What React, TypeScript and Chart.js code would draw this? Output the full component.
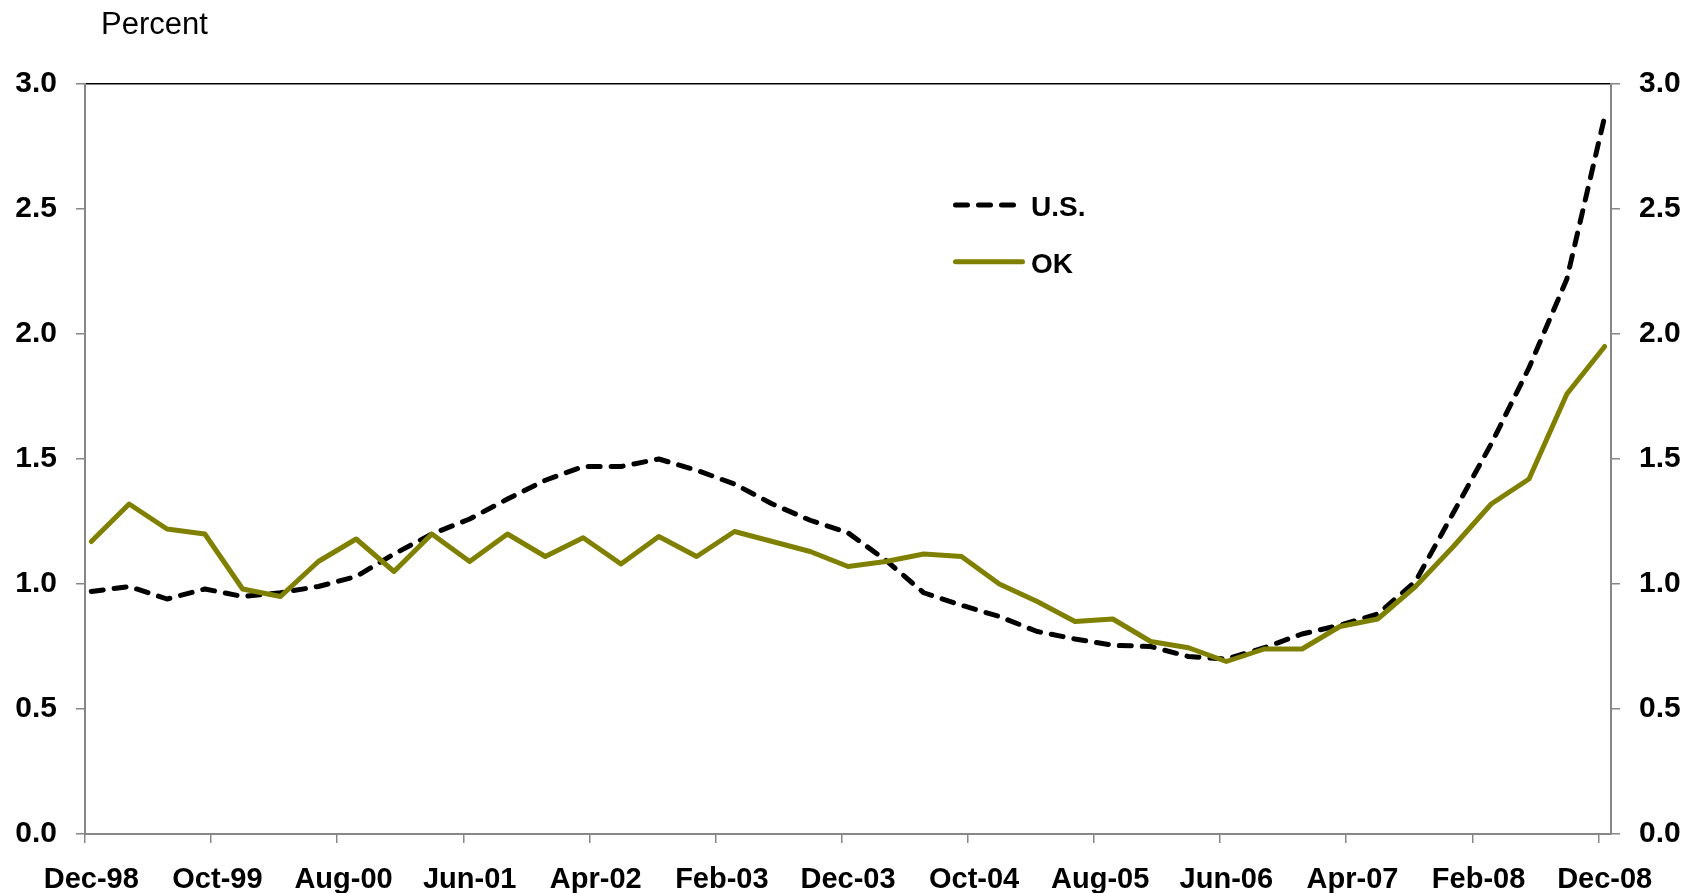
import React, { useEffect, useRef } from "react";
import { Chart, registerables } from "chart.js";

Chart.register(...registerables);

// Quarterly observations (end of quarter)
const quarters = [
  "Dec-98", "Mar-99", "Jun-99", "Sep-99", "Dec-99", "Mar-00", "Jun-00", "Sep-00",
  "Dec-00", "Mar-01", "Jun-01", "Sep-01", "Dec-01", "Mar-02", "Jun-02", "Sep-02",
  "Dec-02", "Mar-03", "Jun-03", "Sep-03", "Dec-03", "Mar-04", "Jun-04", "Sep-04",
  "Dec-04", "Mar-05", "Jun-05", "Sep-05", "Dec-05", "Mar-06", "Jun-06", "Sep-06",
  "Dec-06", "Mar-07", "Jun-07", "Sep-07", "Dec-07", "Mar-08", "Jun-08", "Sep-08",
  "Dec-08",
];

const usValues = [
  0.97, 0.99, 0.94, 0.98, 0.95, 0.965, 0.99, 1.03, 1.12, 1.2, 1.26, 1.34, 1.415,
  1.47, 1.47, 1.5, 1.455, 1.4, 1.32, 1.255, 1.205, 1.095, 0.965, 0.915, 0.87,
  0.81, 0.78, 0.755, 0.75, 0.71, 0.7, 0.745, 0.8, 0.835, 0.88, 1.01, 1.285, 1.56,
  1.865, 2.22, 2.87,
];

const okValues = [
  1.17, 1.32, 1.22, 1.2, 0.98, 0.95, 1.09, 1.18, 1.05, 1.2, 1.09, 1.2, 1.11,
  1.185, 1.08, 1.19, 1.11, 1.21, 1.17, 1.13, 1.07, 1.09, 1.12, 1.11, 1.0, 0.93,
  0.85, 0.86, 0.77, 0.745, 0.69, 0.74, 0.74, 0.83, 0.86, 0.99, 1.15, 1.32, 1.42,
  1.76, 1.95,
];

const tickLabels = [
  "Dec-98", "Oct-99", "Aug-00", "Jun-01", "Apr-02", "Feb-03", "Dec-03",
  "Oct-04", "Aug-05", "Jun-06", "Apr-07", "Feb-08", "Dec-08",
];

const yTicks = [0, 0.5, 1.0, 1.5, 2.0, 2.5, 3.0];
const seriesNames = ["U.S.", "OK"];
const unitLabel = "Percent";

const MONTHS = ["Jan", "Feb", "Mar", "Apr", "May", "Jun", "Jul", "Aug", "Sep", "Oct", "Nov", "Dec"];
// months elapsed since Dec-98
function monthIndex(label: string): number {
  const [mon, yy] = label.split("-");
  const yr = parseInt(yy, 10);
  const year = yr > 50 ? 1900 + yr : 2000 + yr;
  return (year - 1998) * 12 + (MONTHS.indexOf(mon) + 1) - 12;
}

const FONT = "'Liberation Sans', Arial, Helvetica, sans-serif";
const GREY = "#878787";
const OLIVE = "#808000";

const overlayPlugin = {
  id: "overlay",
  afterDraw(chart: any) {
    const ctx = chart.ctx;
    const a = chart.chartArea;
    ctx.save();
    ctx.fillStyle = "#000";
    ctx.textAlign = "left";
    ctx.textBaseline = "alphabetic";
    ctx.font = `31px ${FONT}`;
    ctx.fillText(unitLabel, a.left + 16, 34);

    const legendOrder = [0, 1];
    legendOrder.forEach((di, k) => {
      const ds = chart.data.datasets[di];
      const y = a.top + 121 + k * 56.7;
      ctx.save();
      ctx.strokeStyle = ds.borderColor;
      ctx.lineWidth = ds.borderWidth;
      ctx.lineCap = "round";
      ctx.setLineDash(ds.borderDash || []);
      ctx.beginPath();
      const x0 = a.left + 870.5;
      const x1 = ds.borderDash && ds.borderDash.length ? a.left + 928.5 : a.left + 937.5;
      ctx.moveTo(x0, y);
      ctx.lineTo(x1, y);
      ctx.stroke();
      ctx.restore();
      ctx.font = `bold 28px ${FONT}`;
      ctx.fillStyle = "#000";
      ctx.fillText(ds.label, a.left + 946, y + 11);
    });
    ctx.restore();
  },
};

export default function App() {
  const ref = useRef<HTMLCanvasElement | null>(null);

  useEffect(() => {
    if (!ref.current) return;
    const xMin = monthIndex(quarters[0]);
    const xMax = monthIndex(quarters[quarters.length - 1]) + 1;
    const toPts = (vals: number[]) =>
      vals.map((v, i) => ({ x: monthIndex(quarters[i]) + 0.5, y: v }));
    const tickVals = tickLabels.map(monthIndex);
    const labelFor = (v: number) => {
      const i = tickVals.indexOf(v);
      return i >= 0 ? tickLabels[i] : "";
    };

    const yCommon = {
      type: "linear" as const,
      min: 0,
      max: 3,
      afterBuildTicks: (s: any) => {
        s.ticks = yTicks.map((v) => ({ value: v }));
      },
      grid: {
        drawOnChartArea: false,
        drawTicks: true,
        tickLength: 9,
        color: GREY,
        lineWidth: 1.5,
      },
      border: { display: true, color: GREY, width: 2 },
      ticks: {
        color: "#000",
        padding: 19,
        font: { family: FONT, size: 30, weight: "bold" as const },
        callback: (v: any) => Number(v).toFixed(1),
      },
    };

    const chart = new Chart(ref.current, {
      type: "line",
      data: {
        datasets: [
          {
            label: seriesNames[0],
            data: toPts(usValues),
            borderColor: "#000000",
            backgroundColor: "#000000",
            borderWidth: 5,
            borderDash: [12, 11],
            borderCapStyle: "round",
            borderJoinStyle: "round",
            pointRadius: 0,
            tension: 0,
            order: 2,
            yAxisID: "y",
          },
          {
            label: seriesNames[1],
            data: toPts(okValues),
            borderColor: OLIVE,
            backgroundColor: OLIVE,
            borderWidth: 5,
            borderCapStyle: "round",
            borderJoinStyle: "round",
            pointRadius: 0,
            tension: 0,
            order: 1,
            yAxisID: "y",
          },
        ],
      },
      options: {
        responsive: false,
        animation: false,
        layout: { padding: 0 },
        plugins: {
          legend: { display: false },
          tooltip: { enabled: false },
          title: { display: false },
        },
        scales: {
          x: {
            type: "linear",
            position: "bottom",
            min: xMin,
            max: xMax,
            afterBuildTicks: (s: any) => {
              s.ticks = tickVals.map((v) => ({ value: v }));
            },
            afterFit: (s: any) => {
              s.height = 59;
            },
            grid: {
              drawOnChartArea: false,
              drawTicks: true,
              tickLength: 9,
              color: GREY,
              lineWidth: 1.5,
            },
            border: { display: true, color: GREY, width: 2 },
            ticks: {
              color: "#000",
              padding: 20,
              maxRotation: 0,
              autoSkip: false,
              labelOffset: 6.3,
              font: { family: FONT, size: 29, weight: "bold" },
              callback: (v: any) => labelFor(Number(v)),
            },
          },
          xTop: {
            type: "linear",
            position: "top",
            min: xMin,
            max: xMax,
            afterFit: (s: any) => {
              s.height = 84;
            },
            grid: { display: false },
            border: { display: true, color: "#000", width: 1.5 },
            ticks: { display: false },
          },
          y: {
            ...yCommon,
            position: "left",
            afterFit: (s: any) => {
              s.width = 85;
            },
          },
          y2: {
            ...yCommon,
            position: "right",
            afterFit: (s: any) => {
              s.width = 89;
            },
          },
        },
      },
      plugins: [overlayPlugin],
    } as any);

    return () => chart.destroy();
  }, []);

  return (
    <div
      style={{
        position: "fixed",
        left: 0,
        top: 0,
        width: 1700,
        height: 893,
        background: "#fff",
        overflow: "hidden",
      }}
    >
      <canvas ref={ref} width={1700} height={893} style={{ display: "block" }} />
    </div>
  );
}
